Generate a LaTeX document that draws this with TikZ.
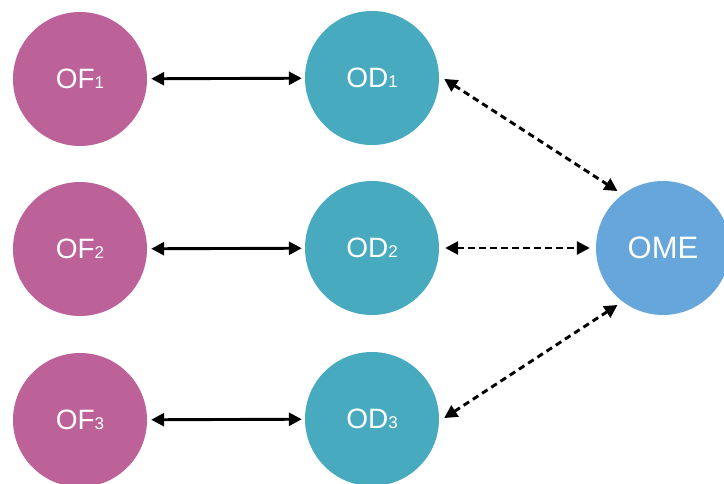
\documentclass[tikz,border=0pt]{standalone}
\usepackage{fontspec}
\setmainfont{Liberation Sans}
\usetikzlibrary{arrows.meta}
\definecolor{ofcol}{HTML}{BD6199}
\definecolor{odcol}{HTML}{48AABF}
\definecolor{omecol}{HTML}{67A6DA}
\tikzset{
  ball/.style={circle, minimum size=134pt, inner sep=0pt, text=white,
    font=\fontsize{28}{28}\selectfont},
  ofball/.style={ball, fill=ofcol},
  odball/.style={ball, fill=odcol},
  omeball/.style={ball, fill=omecol, font=\fontsize{31}{31}\selectfont},
  link/.style={line width=2.9pt, {Triangle[length=13pt,width=13pt]}-{Triangle[length=13pt,width=13pt]}},
  solidlink/.style={link, shorten <=4pt, shorten >=3pt},
  dashlink/.style={link, dash pattern=on 6.5pt off 4.5pt, shorten <=6pt, shorten >=6pt}
}
\newcommand{\idx}[1]{{\fontsize{17}{17}\selectfont #1}}
\begin{document}
\begin{tikzpicture}[x=1pt, y=-1pt]
  \useasboundingbox (0,0) rectangle (724,484);
  \node[ofball] (of1) at (80,79) {OF\idx{1}};
  \node[ofball] (of2) at (80,249) {OF\idx{2}};
  \node[ofball] (of3) at (80,420) {OF\idx{3}};
  \node[odball] (od1) at (372,78) {OD\idx{1}};
  \node[odball] (od2) at (372,248) {OD\idx{2}};
  \node[odball] (od3) at (372,419) {OD\idx{3}};
  \node[omeball] (ome) at (663,248) {OME};
  \draw[solidlink] (of1) -- (od1);
  \draw[solidlink] (of2) -- (od2);
  \draw[solidlink] (of3) -- (od3);
  \draw[dashlink] (od1.2) -- (ome.127);
  \draw[dashlink] (od2) -- (ome);
  \draw[dashlink] (od3.-2) -- (ome.-127);
\end{tikzpicture}
\end{document}
